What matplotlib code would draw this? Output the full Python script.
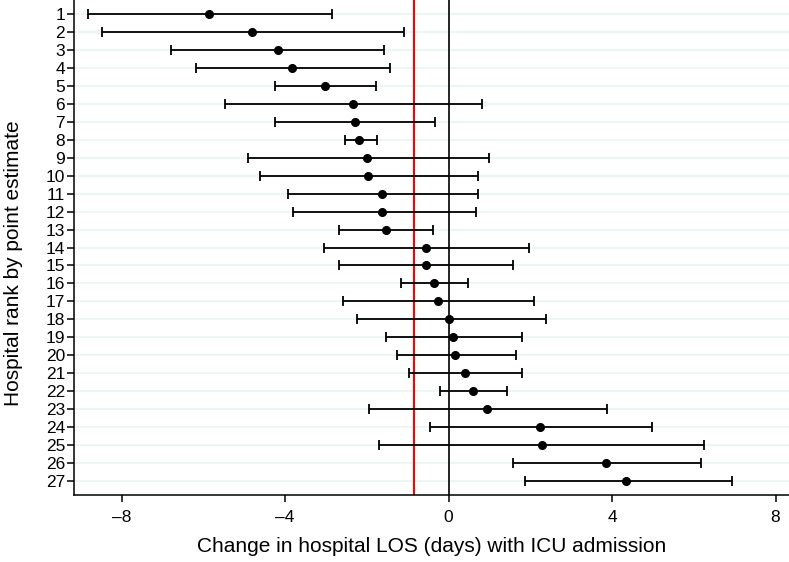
import numpy as np
import matplotlib
matplotlib.use('Agg')
import matplotlib.pyplot as plt

plt.rcParams['font.family'] = ['Liberation Sans', 'DejaVu Sans']

ranks = list(range(1, 28))
est = [-5.87, -4.81, -4.17, -3.84, -3.02, -2.34, -2.30, -2.18, -2.00, -1.97,
       -1.63, -1.63, -1.54, -0.56, -0.56, -0.35, -0.26, 0.02, 0.12, 0.16,
       0.41, 0.59, 0.95, 2.23, 2.28, 3.85, 4.35]
lower = [-8.83, -8.49, -6.79, -6.19, -4.24, -5.47, -4.24, -2.54, -4.91, -4.62,
         -3.94, -3.81, -2.67, -3.05, -2.67, -1.17, -2.58, -2.24, -1.52, -1.27,
         -0.96, -0.20, -1.94, -0.46, -1.70, 1.58, 1.88]
upper = [-2.84, -1.09, -1.57, -1.43, -1.78, 0.82, -0.33, -1.74, 0.99, 0.73,
         0.73, 0.66, -0.37, 1.96, 1.58, 0.48, 2.09, 2.39, 1.80, 1.66,
         1.80, 1.42, 3.87, 4.99, 6.26, 6.18, 6.94]
overall = -0.84
xticks = [-8, -4, 0, 4, 8]

est = np.array(est)
err = np.array([est - np.array(lower), np.array(upper) - est])

fig = plt.figure(figsize=(7.89, 5.62), dpi=100)
ax = fig.add_axes([0.094, 0.1192, 0.906, 0.8808])

for r in ranks:
    ax.axhline(r, color='#e8f6f3', lw=1.2, zorder=0)

ax.axvline(overall, color='red', lw=1.5, zorder=1)
ax.axvline(0, color='black', lw=1.2, zorder=1)

ax.errorbar(est, ranks, xerr=err, fmt='o', color='black', ms=5.5,
            elinewidth=1.3, capsize=3.5, capthick=1.3, zorder=3)

ax.set_xlim(-9.16, 8.33)
ax.set_ylim(27.76, 0.24)
ax.set_xticks(xticks)
ax.set_xticklabels([str(t).replace('-', '\u2013') for t in xticks])
ax.set_yticks(ranks)
ax.tick_params(axis='both', labelsize=12.5, length=5, width=1.1)
ax.tick_params(axis='y', pad=1.5)
ax.tick_params(axis='x', pad=5.5)
ax.spines['top'].set_visible(False)
ax.spines['right'].set_visible(False)
ax.spines['left'].set_linewidth(1.1)
ax.spines['bottom'].set_linewidth(1.1)

ax.set_xlabel('Change in hospital LOS (days) with ICU admission', fontsize=15, labelpad=9)
ax.set_ylabel('Hospital rank by point estimate', fontsize=15)
ax.yaxis.set_label_coords(-0.072, 0.469)

fig.savefig('out.png', dpi=100)
